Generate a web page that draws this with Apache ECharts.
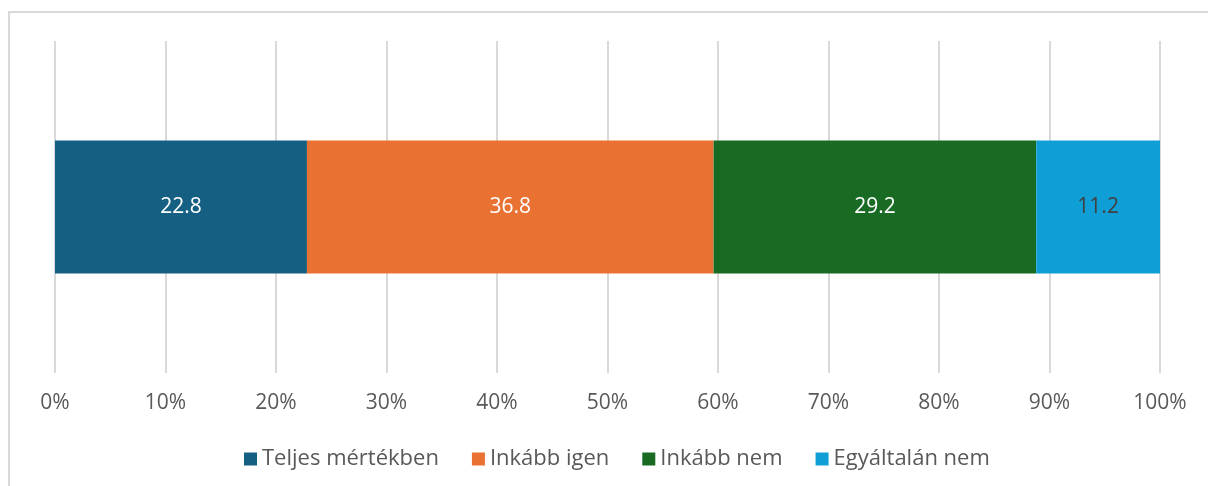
<!DOCTYPE html>
<html>
<head>
<meta charset="utf-8">
<script src="https://cdn.jsdelivr.net/npm/echarts@6/dist/echarts.min.js"></script>
<style>
  html, body { margin: 0; padding: 0; background: #fff; overflow: hidden; }
  #frame {
    position: absolute; left: 8px; top: 11px;
    width: 1400px; height: 700px;
    border: 2px solid #d9d9d9;
  }
  #chart { position: absolute; left: 0; top: 0; width: 1208px; height: 486px; }
</style>
</head>
<body>
<div id="frame"></div>
<div id="chart"></div>
<script>
const categories = ['']
const seriesNames = ['Teljes mértékben', 'Inkább igen', 'Inkább nem', 'Egyáltalán nem']
const teljes = [22.8]
const igen = [36.8]
const nem = [29.2]
const egyaltalan = [11.2]
const tickLabels = ['0%', '10%', '20%', '30%', '40%', '50%', '60%', '70%', '80%', '90%', '100%']

const colors = ['#156082', '#E97132', '#196B24', '#0F9ED5']
const values = [teljes, igen, nem, egyaltalan]
const font = 'Open Sans'

const chart = echarts.init(document.getElementById('chart'), null, { renderer: 'canvas' })

chart.setOption({
  animation: false,
  backgroundColor: 'transparent',
  grid: { left: 55, right: 48, top: 41, bottom: 113 },
  legend: {
    top: 443,
    left: 239,
    itemWidth: 13,
    itemHeight: 13,
    itemGap: 33,
    icon: 'rect',
    textStyle: { color: '#595959', fontSize: 22, fontFamily: font }
  },
  xAxis: {
    type: 'value',
    min: 0,
    max: 100,
    interval: 10,
    axisLine: { show: false },
    axisTick: { show: false },
    splitLine: { lineStyle: { color: '#d9d9d9', width: 2 } },
    axisLabel: {
      color: '#595959',
      fontSize: 21,
      fontFamily: font,
      margin: 20,
      formatter: (v) => tickLabels[Math.round(v / 10)]
    }
  },
  yAxis: {
    type: 'category',
    data: categories,
    axisLine: { show: false },
    axisTick: { show: false },
    axisLabel: { show: false }
  },
  series: seriesNames.map((name, i) => ({
    name,
    type: 'bar',
    stack: 'total',
    barWidth: '40%',
    data: values[i],
    itemStyle: { color: colors[i] },
    label: {
      show: true,
      position: 'inside',
      color: i === 3 ? '#404040' : '#ffffff',
      fontSize: 21,
      fontFamily: font,
      formatter: (p) => p.value.toFixed(1)
    }
  }))
})
</script>
</body>
</html>
